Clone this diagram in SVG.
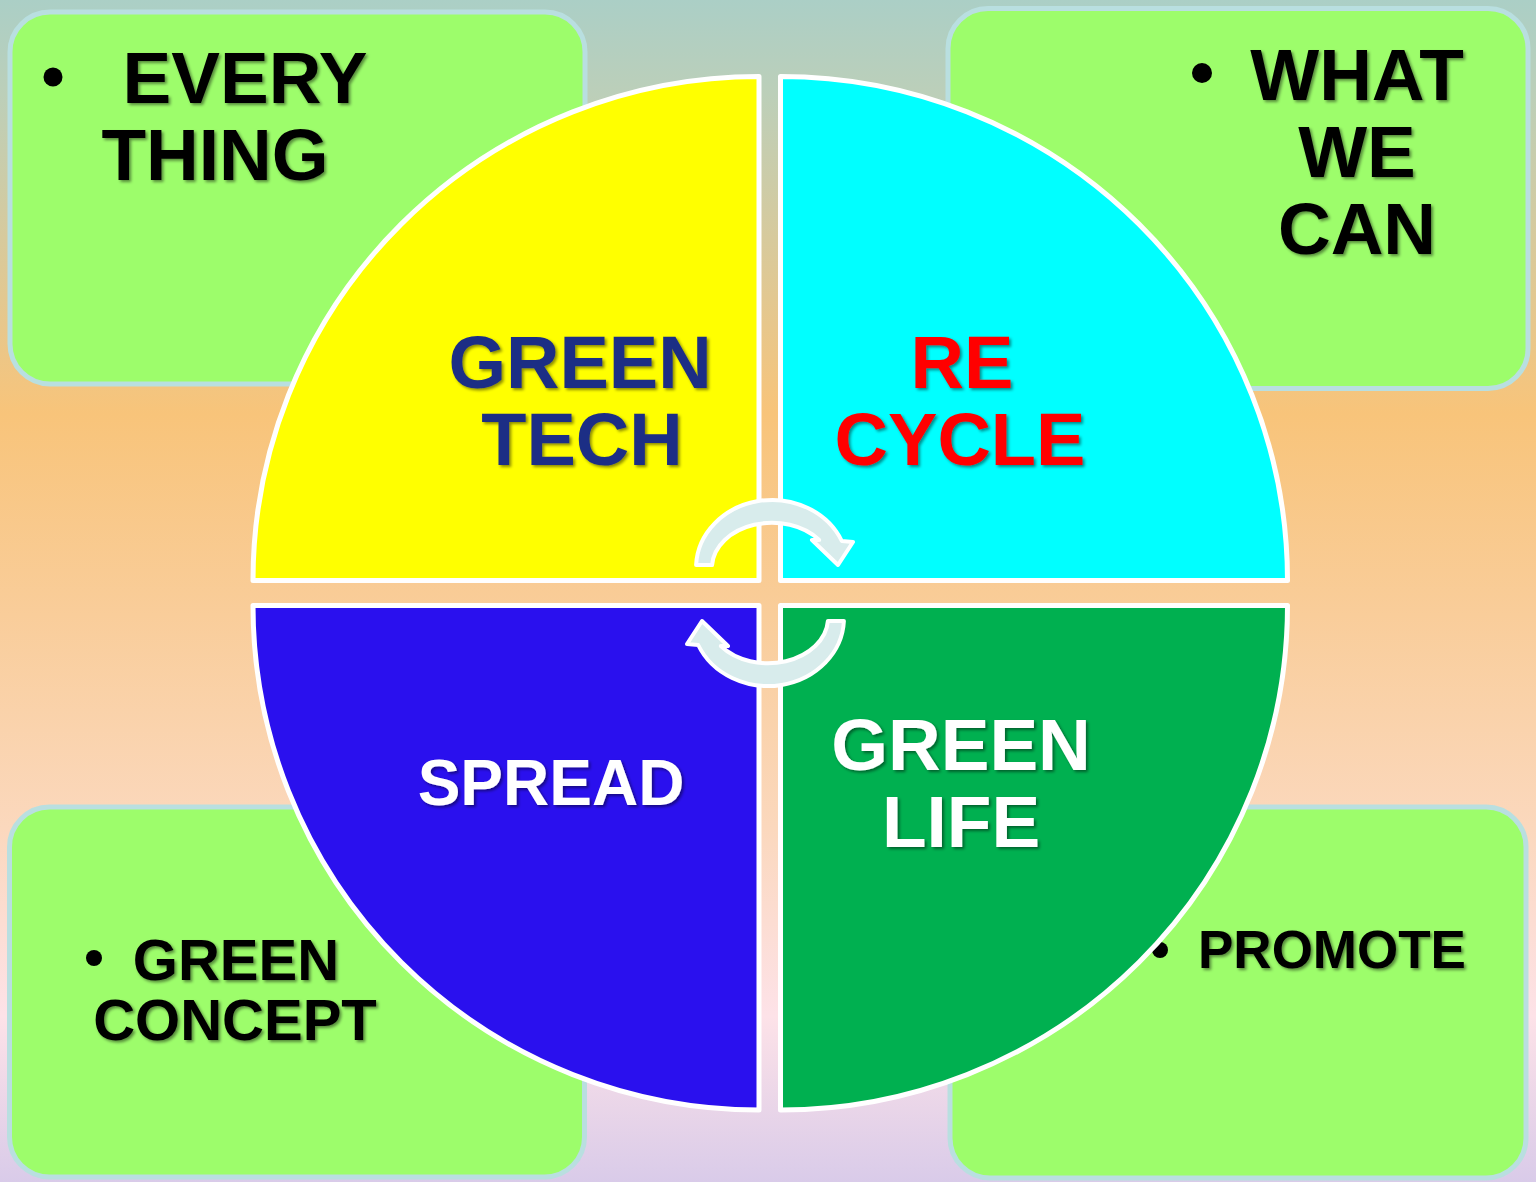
<svg xmlns="http://www.w3.org/2000/svg" width="1536" height="1182" viewBox="0 0 1536 1182">
<defs>
<linearGradient id="bg" x1="0" y1="0" x2="0" y2="1">
<stop offset="0" stop-color="#abcfc6"/>
<stop offset="0.08" stop-color="#bccfb9"/>
<stop offset="0.35" stop-color="#f8c47a"/>
<stop offset="0.52" stop-color="#f9cd9a"/>
<stop offset="0.7" stop-color="#fbd8bd"/>
<stop offset="0.86" stop-color="#fde2e8"/>
<stop offset="1" stop-color="#d9cbe9"/>
</linearGradient>
<filter id="sh" x="-10%" y="-10%" width="130%" height="130%">
<feDropShadow dx="2" dy="2" stdDeviation="1.5" flood-color="#000" flood-opacity="0.45"/>
</filter>
<style>
.box{fill:#9dfd6b;stroke:#b9dfe0;stroke-width:5}
.q{stroke:#fff;stroke-width:5;stroke-linejoin:round}
.t{font-family:"Liberation Sans",Arial,sans-serif;font-weight:bold;text-anchor:middle;filter:url(#sh)}
.bl{fill:#000}
.arr{fill:#d8ecec;stroke:#fff;stroke-width:4;stroke-linejoin:round}
</style>
</defs>
<rect x="0" y="0" width="1536" height="1182" fill="url(#bg)"/>

<g id="box-tl">
<rect class="box" x="10" y="12" width="575" height="372" rx="40"/>
<circle class="bl" cx="53" cy="77" r="9.5"/>
<text class="t" x="245" y="103" font-size="73">EVERY</text>
<text class="t" x="215" y="180" font-size="73">THING</text>
</g>
<g id="box-tr">
<rect class="box" x="948" y="8.5" width="580" height="380" rx="40"/>
<circle class="bl" cx="1202" cy="73" r="10"/>
<text class="t" x="1357" y="100" font-size="73">WHAT</text>
<text class="t" x="1357" y="177" font-size="73">WE</text>
<text class="t" x="1357" y="254" font-size="73">CAN</text>
</g>
<g id="box-bl">
<rect class="box" x="9.5" y="807" width="575" height="370" rx="40"/>
<circle class="bl" cx="94" cy="958" r="8"/>
<text class="t" x="236" y="980" font-size="58">GREEN</text>
<text class="t" x="235" y="1040" font-size="58">CONCEPT</text>
</g>
<g id="box-br">
<rect class="box" x="950" y="807" width="576" height="371" rx="40"/>
<circle class="bl" cx="1160" cy="950" r="8"/>
<text class="t" x="1332" y="968" font-size="53">PROMOTE</text>
</g>

<g id="q-tech">
<path class="q" fill="#ffff00" d="M759 580.5 L253 580.5 A506 504 0 0 1 759 76.5 Z"/>
<text class="t" x="580" y="388" font-size="74" fill="#1c2e85">GREEN</text>
<text class="t" x="582" y="465" font-size="74" fill="#1c2e85">TECH</text>
</g>
<g id="q-recycle">
<path class="q" fill="#00ffff" d="M780.5 580.5 L780.5 76.5 A507 504 0 0 1 1287.5 580.5 Z"/>
<text class="t" x="962" y="388" font-size="74" fill="#ff0000">RE</text>
<text class="t" x="960" y="465" font-size="74" fill="#ff0000">CYCLE</text>
</g>
<g id="q-spread">
<path class="q" fill="#2a10ee" d="M759 605.5 L759 1110 A506 504.5 0 0 1 253 605.5 Z"/>
<text class="t" x="551" y="805" font-size="64" fill="#ffffff">SPREAD</text>
</g>
<g id="q-life">
<path class="q" fill="#00b050" d="M780.5 605.5 L1287.5 605.5 A507 504.5 0 0 1 780.5 1110 Z"/>
<text class="t" x="961" y="770" font-size="73" fill="#ffffff">GREEN</text>
<text class="t" x="961" y="847" font-size="73" fill="#ffffff">LIFE</text>
</g>

<g id="connectors">
<path class="arr" d="M696.1 565 A76 68 0 0 1 841.8 541 L853 542 L838 565 L812 540 L819.2 540 A60 45 0 0 0 712.1 565 Z"/>
<path class="arr" transform="rotate(180 770 593)" d="M696.1 565 A76 68 0 0 1 841.8 541 L853 542 L838 565 L812 540 L819.2 540 A60 45 0 0 0 712.1 565 Z"/>
</g>
</svg>
